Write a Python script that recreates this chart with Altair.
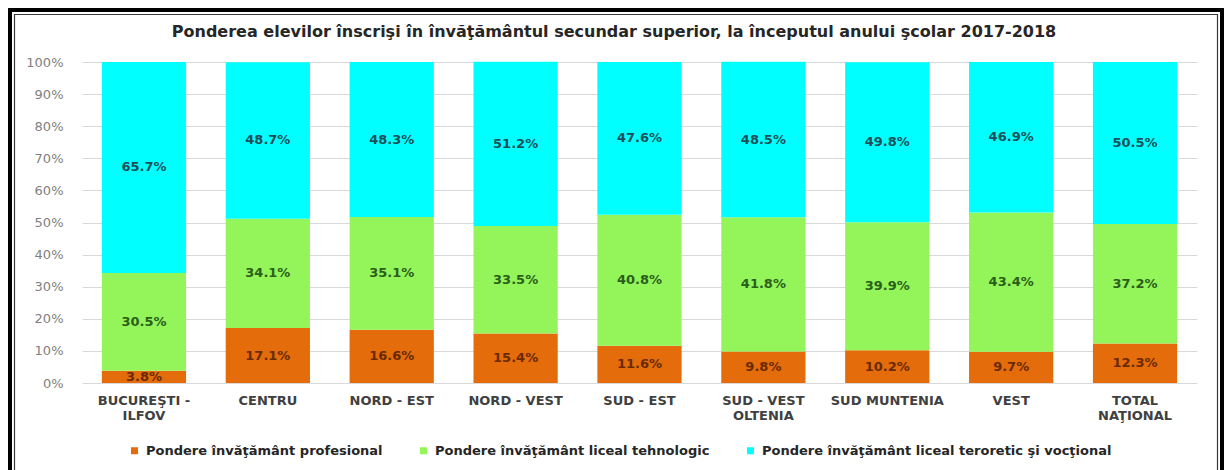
import altair as alt
import pandas as pd

# ---- data ----
categories = ["BUCUREŞTI -\nILFOV", "CENTRU", "NORD - EST", "NORD - VEST", "SUD - EST",
              "SUD - VEST\nOLTENIA", "SUD MUNTENIA", "VEST", "TOTAL\nNAŢIONAL"]
profesional = [3.8, 17.1, 16.6, 15.4, 11.6, 9.8, 10.2, 9.7, 12.3]
tehnologic = [30.5, 34.1, 35.1, 33.5, 40.8, 41.8, 39.9, 43.4, 37.2]
teoretic = [65.7, 48.7, 48.3, 51.2, 47.6, 48.5, 49.8, 46.9, 50.5]
series_names = ["Pondere învăţământ profesional",
                "Pondere învăţământ liceal tehnologic",
                "Pondere învăţământ liceal teroretic şi vocţional"]
y_ticks = [0, 10, 20, 30, 40, 50, 60, 70, 80, 90, 100]
title_text = "Ponderea elevilor înscrişi  în învăţământul secundar superior, la începutul anului şcolar 2017-2018"

# ---- styles ----
bar_colors = ["#E46C0A", "#93F55A", "#00FFFF"]
label_colors = ["#6A2A00", "#2B5E1A", "#1C4F58"]
FONT = "DejaVu Sans"

rows = []
for i, cat in enumerate(categories):
    start = 0.0
    for s, vals in zip(series_names, [profesional, tehnologic, teoretic]):
        v = vals[i]
        rows.append({"cat": cat, "series": s, "value": v, "start": start,
                     "end": start + v, "mid": start + v / 2, "label": f"{v:.1f}%"})
        start += v
df = pd.DataFrame(rows)

W, H = 1115, 321

y_scale = alt.Scale(domain=[0, 100], nice=False)
x_scale = alt.Scale(paddingInner=0.32, paddingOuter=0.16)
x_axis = alt.Axis(labelAngle=0, domain=False, ticks=False, grid=False,
                  labelFont=FONT, labelFontSize=13, labelFontWeight="bold",
                  labelColor="#404040", labelPadding=11, labelLineHeight=15,
                  labelBaseline="top", labelExpr="split(datum.label, '\\n')")
y_axis = alt.Axis(values=y_ticks, labelExpr="datum.value + '%'",
                  domain=False, ticks=False, grid=True, gridColor="#D9D9D9",
                  gridWidth=1, labelFont=FONT, labelFontSize=13,
                  labelColor="#808080", labelPadding=19, labelOverlap=False)

bars = alt.Chart(df).mark_bar().encode(
    x=alt.X("cat:N", sort=categories, title=None, scale=x_scale, axis=x_axis),
    y=alt.Y("start:Q", title=None, scale=y_scale, axis=y_axis),
    y2="end:Q",
    color=alt.Color("series:N", sort=series_names,
                    scale=alt.Scale(domain=series_names, range=bar_colors),
                    legend=alt.Legend(title=None, orient="none", direction="horizontal",
                                      legendX=46, legendY=382, symbolType="square",
                                      symbolSize=49, symbolStrokeWidth=0,
                                      labelFont=FONT, labelFontSize=13,
                                      labelFontWeight="bold", labelColor="#262626",
                                      labelLimit=600, labelOffset=5, columnPadding=34)),
)

labels = alt.Chart(df).mark_text(font=FONT, fontSize=13, fontWeight="bold",
                                 baseline="middle", align="center").encode(
    x=alt.X("cat:N", sort=categories, title=None, scale=x_scale, axis=x_axis),
    y=alt.Y("mid:Q", title=None, scale=y_scale, axis=y_axis),
    text="label:N",
    color=alt.Color("series:N", scale=alt.Scale(domain=series_names, range=label_colors),
                    legend=None),
)

one_row = pd.DataFrame({"title": [title_text]})
title_mark = alt.Chart(one_row).mark_text(
    font=FONT, fontSize=16, fontWeight="bold", color="#262626",
    align="center", baseline="middle").encode(
    text="title:N", x=alt.value(532), y=alt.value(-30))

frame_outer = alt.Chart(one_row).mark_rect(fillOpacity=0, stroke="#000000", strokeWidth=4).encode(
    x=alt.value(-72), x2=alt.value(1140), y=alt.value(-52), y2=alt.value(440))
frame_inner = alt.Chart(one_row).mark_rect(fillOpacity=0, stroke="#3A3A3A", strokeWidth=1.2).encode(
    x=alt.value(-67.5), x2=alt.value(1135.5), y=alt.value(-47.5), y2=alt.value(440))

chart = alt.layer(bars, labels, title_mark, frame_outer, frame_inner).resolve_scale(
    color="independent"
).properties(
    width=W, height=H,
    autosize=alt.AutoSizeParams(type="none"),
    padding={"left": 74, "top": 54, "right": 27, "bottom": 87},
    background="white",
).configure_view(stroke=None, strokeWidth=0)

chart.save("out.html", embed_options={"renderer": "svg", "actions": False})
